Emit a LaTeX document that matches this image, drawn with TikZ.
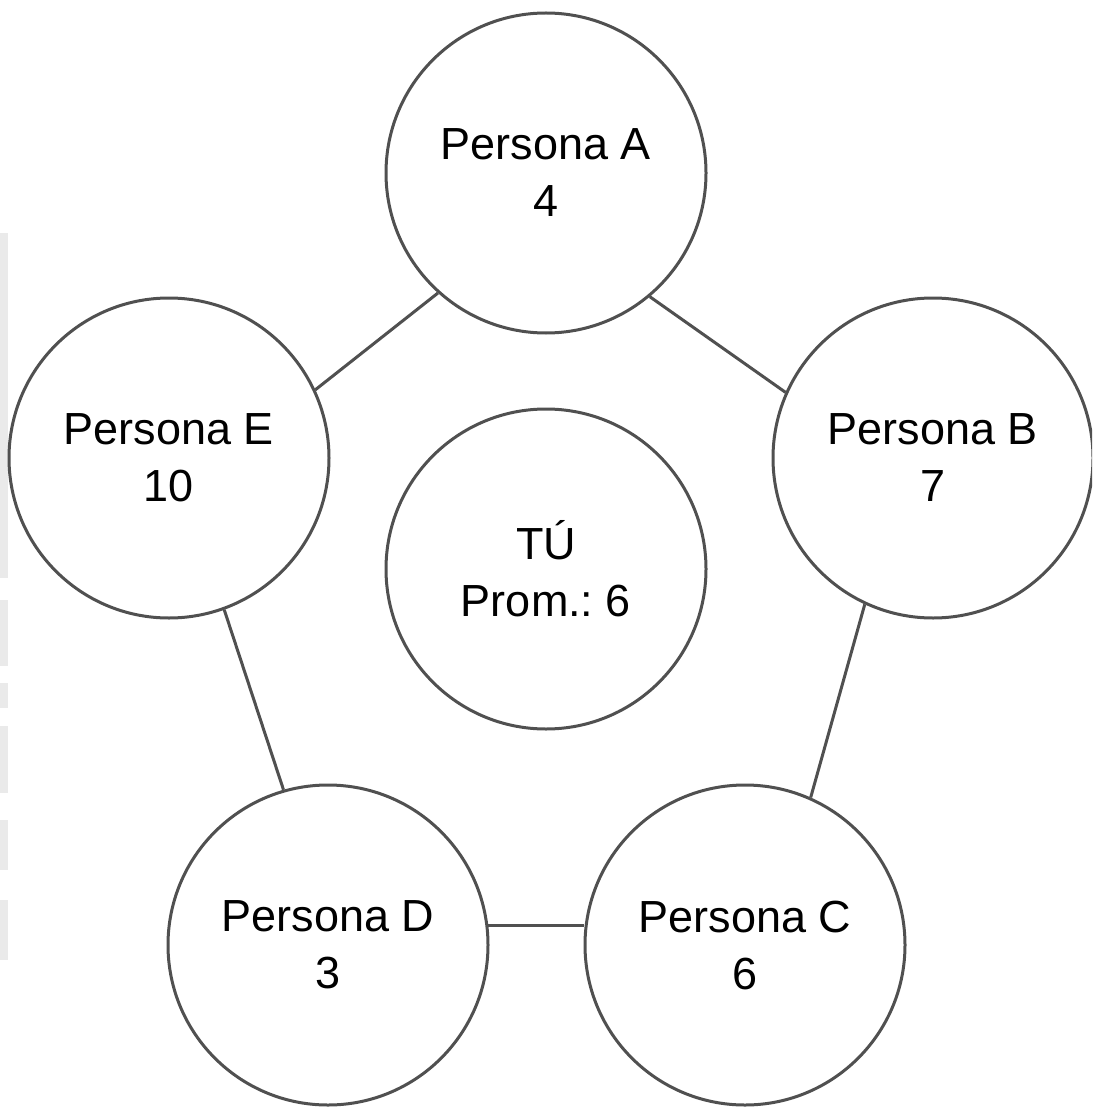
\documentclass[tikz,border=0pt]{standalone}
\usepackage{fontspec}
\setmainfont{Liberation Sans}
\frenchspacing
\definecolor{edgegray}{HTML}{505050}
\definecolor{stripgray}{HTML}{EAEAEA}
\begin{document}
\begin{tikzpicture}[x=0.5pt,y=-0.5pt,
  person/.style={circle, draw=edgegray, line width=1.5pt, fill=white,
    minimum size=160pt, inner sep=0pt, align=center,
    font=\fontsize{22.5}{28.5}\selectfont},
  link/.style={draw=edgegray, line width=1.5pt}]
\clip (0,0) rectangle (1092,1107);
\fill[white] (0,0) rectangle (1092,1107);

% faint grey band along the left margin
\fill[stripgray] (0,233) rectangle (8,578);
\fill[stripgray] (0,600) rectangle (8,666);
\fill[stripgray] (0,683) rectangle (8,708);
\fill[stripgray] (0,726) rectangle (8,793);
\fill[stripgray] (0,820) rectangle (8,870);
\fill[stripgray] (0,900) rectangle (8,960);

% the five people around the pentagon and the centre
\node[person] (A) at (546,173) {Persona A\\4};
\node[person] (B) at (933,458) {Persona B\\7};
\node[person] (C) at (745,945) {Persona C\\6};
\node[person] (D) at (328,945) {Persona D\\3};
\node[person] (E) at (169,458) {Persona E\\10};
\node[person] (T) at (546,569) {TÚ\\Prom.: 6};

% ring connections
\draw[link] (A.228.5) -- (E.25.3);
\draw[link] (A.310.8) -- (B.156.9);
\draw[link] (B.245.5) -- (C.66.1);
\draw[link] (D.7.5) -- (D.7.5 -| C.west);
\draw[link] (E.290.9) -- (D.106.4);
\end{tikzpicture}
\end{document}
